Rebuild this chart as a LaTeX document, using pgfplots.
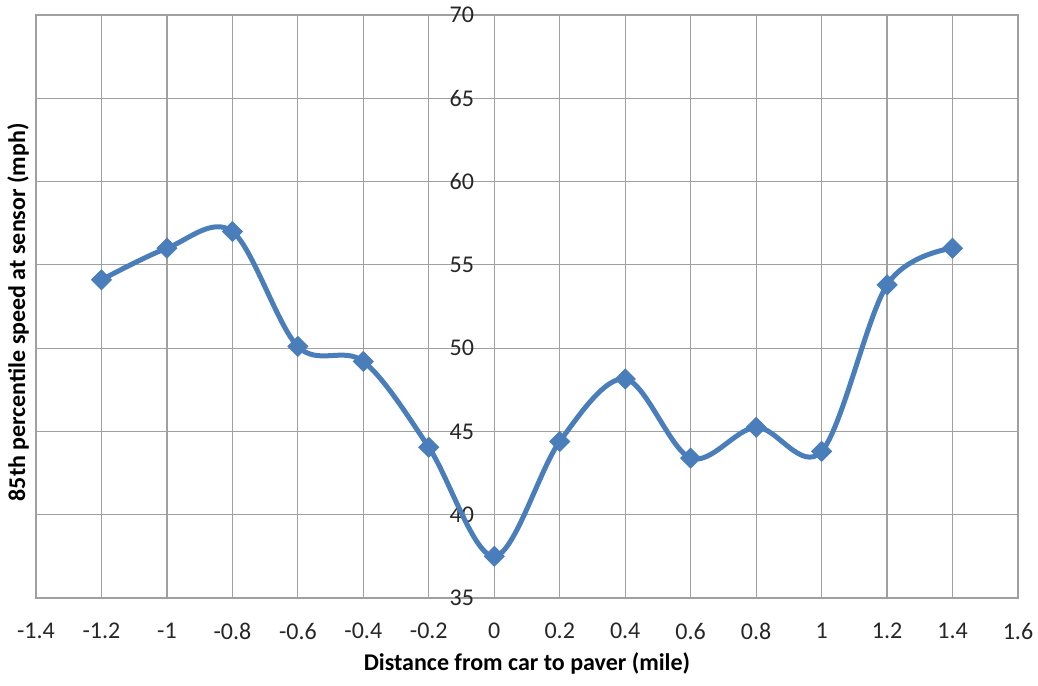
\documentclass[border=0pt]{standalone}
\usepackage{pgfplots}
\pgfplotsset{compat=1.18}
\usepackage{fontspec}
\setmainfont{Carlito}
\definecolor{serblue}{HTML}{4A7EBB}
\definecolor{gridgray}{HTML}{A0A0A0}
\begin{document}
\begin{tikzpicture}
\begin{axis}[
  scale only axis,
  width=491pt, height=291.5pt,
  xmin=-1.4, xmax=1.6, ymin=35, ymax=70,
  xtick={-1.4,-1.2,-1,-0.8,-0.6,-0.4,-0.2,0,0.2,0.4,0.6,0.8,1,1.2,1.4,1.6},
  xticklabels={-1.4,-1.2,-1,-0.8,-0.6,-0.4,-0.2,0,0.2,0.4,0.6,0.8,1,1.2,1.4,1.6},
  ytick={35,40,45,50,55,60,65,70},
  yticklabels={35,40,45,50,55,60,65,70},
  grid=major,
  major grid style={draw=gridgray, line width=0.6pt},
  axis line style={draw=gridgray, line width=0.6pt},
  major tick length=0pt,
  tick label style={font=\fontsize{12}{14}\selectfont, text=black!85},
  xticklabel style={yshift=-9pt},
  yticklabel style={anchor=east, xshift=222.5pt},
  every axis x label/.style={at={(rel axis cs:0.5,0)}, anchor=center, yshift=-32.5pt, font=\bfseries\fontsize{12}{14}\selectfont},
  every axis y label/.style={at={(rel axis cs:0,0.49)}, xshift=-9pt, anchor=center, rotate=90, font=\bfseries\fontsize{12}{14}\selectfont},
  xlabel={Distance from car to paver (mile)},
  ylabel={85th percentile speed at sensor (mph)},
  clip=false,
]
\addplot[color=serblue, line width=2.5pt, smooth, tension=0.55,
  mark=square*, mark size=3.5pt, mark options={rotate=45, fill=serblue, draw=serblue, line width=0.5pt}]
  coordinates {
  (-1.2,54.1) (-1,56.0) (-0.8,57.0) (-0.6,50.1) (-0.4,49.2) (-0.2,44.05)
  (0,37.5) (0.2,44.4) (0.4,48.15) (0.6,43.4) (0.8,45.25) (1,43.8)
  (1.2,53.8) (1.4,56.0)
  };
\end{axis}
\pgfresetboundingbox
\path[use as bounding box] ([xshift=-18pt,yshift=-43.5pt]current axis.south west) rectangle ([xshift=10pt,yshift=7.5pt]current axis.north east);
\end{tikzpicture}
\end{document}
